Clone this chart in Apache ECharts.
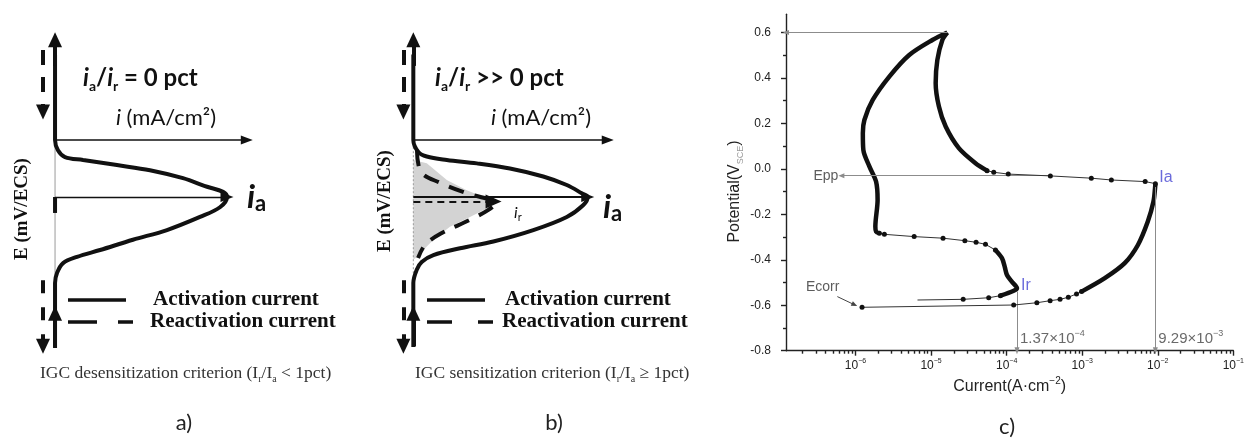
<!DOCTYPE html>
<html>
<head>
<meta charset="utf-8">
<script src="https://cdn.jsdelivr.net/npm/echarts@6/dist/echarts.min.js"></script>
<style>
  html, body { margin: 0; padding: 0; background: #ffffff; }
  #chart { width: 1247px; height: 442px; }
</style>
</head>
<body>
<div id="chart"></div>
<script>
// ---------------------------------------------------------------
// a) / b) schematic DL-EPR curves: [i (relative to i_a), E (arb. units)]
// ---------------------------------------------------------------
const activationA = [
  [0, -2.65], [0, -1.51], [0.012, -1.33], [0.047, -1.16], [0.128, -1.05],
  [0.262, -0.93], [0.453, -0.75], [0.651, -0.58], [0.843, -0.35], [0.959, -0.18],
  [1.0, 0.0], [0.977, 0.09], [0.884, 0.18], [0.744, 0.33], [0.552, 0.47],
  [0.36, 0.56], [0.163, 0.65], [0.058, 0.70], [0.017, 0.82], [0, 1.0], [0, 2.5]
];
// reactivation current is nil in a): it stays on the potential axis
const reactivationA = [[0, 0.0], [0, -0.28]];

const activationB = [
  [0, -2.63], [0, -1.51], [0.019, -1.28], [0.048, -1.14], [0.115, -1.02],
  [0.268, -0.90], [0.459, -0.78], [0.688, -0.58], [0.88, -0.35], [0.975, -0.14],
  [1.0, 0.0], [0.966, 0.065], [0.88, 0.21], [0.745, 0.36], [0.554, 0.50],
  [0.364, 0.59], [0.192, 0.65], [0.077, 0.71], [0.029, 0.79], [0, 1.0], [0, 2.5]
];
const reactivationB = [
  [0.021, 0.82], [0.044, 0.44], [0.153, 0.25], [0.302, 0.07], [0.44, -0.05],
  [0.468, -0.11], [0.428, -0.23], [0.325, -0.40], [0.153, -0.65], [0.067, -0.84],
  [0.027, -1.07]
];
// charge area under the reactivation loop
const reactivationAreaB = [
  [0, 0.65], [0.077, 0.59], [0.192, 0.30], [0.306, 0.12], [0.421, -0.02],
  [0.459, -0.08], [0.421, -0.20], [0.325, -0.35], [0.21, -0.52], [0.115, -0.75],
  [0.038, -0.99], [0.01, -1.08], [0, -1.09]
];
const peakIa = 1.0;      // i_a (relative)
const peakIrB = 0.46;    // i_r in b) (relative)
const peakErB = -0.08;   // potential of the i_r peak in b)

// ---------------------------------------------------------------
// c) measured DL-EPR loop: [current (A/cm^2), potential (V_SCE)]
// ---------------------------------------------------------------
const cathodicRise = [
  [1.22e-6, -0.609], [1.24e-4, -0.599], [2.51e-4, -0.589], [3.76e-4, -0.580],
  [5.09e-4, -0.574], [6.55e-4, -0.565], [8.41e-4, -0.550], [9.79e-4, -0.540]
];
const activationPeak = [
  [9.79e-4, -0.540], [1.99e-3, -0.481], [3.65e-3, -0.415], [5.46e-3, -0.335],
  [7.38e-3, -0.232], [8.77e-3, -0.144], [9.20e-3, -0.085], [9.29e-3, -0.065]
];
const passivationDrop = [
  [9.29e-3, -0.065], [6.81e-3, -0.056], [2.43e-3, -0.049], [1.32e-3, -0.041],
  [3.79e-4, -0.031], [1.05e-4, -0.023], [6.75e-5, -0.015], [5.51e-5, -0.008]
];
const passiveRise = [
  [5.51e-5, -0.008], [3.87e-5, 0.025], [2.33e-5, 0.091], [1.56e-5, 0.186],
  [1.27e-5, 0.274], [1.15e-5, 0.377], [1.21e-5, 0.479], [1.41e-5, 0.567],
  [1.64e-5, 0.600]
];
const reverseScan = [
  [1.64e-5, 0.600], [1.04e-5, 0.567], [5.14e-6, 0.501], [2.80e-6, 0.406],
  [1.69e-6, 0.303], [1.31e-6, 0.215], [1.25e-6, 0.157], [1.27e-6, 0.083],
  [1.53e-6, 0.010], [1.87e-6, -0.056], [1.96e-6, -0.137], [1.83e-6, -0.254],
  [1.87e-6, -0.276], [2.07e-6, -0.283]
];
const reactivationOnset = [
  [2.07e-6, -0.283], [2.41e-6, -0.288], [5.97e-6, -0.298], [1.44e-5, -0.305],
  [2.80e-5, -0.316], [3.94e-5, -0.323], [5.25e-5, -0.332], [7.10e-5, -0.357]
];
const reactivationPeak = [
  [7.10e-5, -0.357], [8.67e-5, -0.393], [9.42e-5, -0.430], [1.01e-4, -0.467],
  [1.17e-4, -0.496], [1.37e-4, -0.525], [1.24e-4, -0.536], [8.26e-5, -0.558]
];
const reactivationTail = [
  [8.26e-5, -0.558], [5.79e-5, -0.567], [2.66e-5, -0.574], [6.61e-6, -0.577]
];

const Ia = 9.29e-3, IaE = -0.065;
const Ir = 1.37e-4, IrE = -0.525;
const Epp = -0.03;
const Ecorr = [1.22e-6, -0.609];
const Evertex = [1.64e-5, 0.600];

// axis ticks of c)
const currentDecades = [-6, -5, -4, -3, -2, -1];
const potentialTicks = [-0.8, -0.6, -0.4, -0.2, 0.0, 0.2, 0.4, 0.6];
const potentialMinorTicks = [-0.7, -0.5, -0.3, -0.1, 0.1, 0.3, 0.5];

// ---------------------------------------------------------------
const lg = Math.log10;
const toLog = arr => arr.map(([i, e]) => [lg(i), e]);
const xMinC = -6.92, xMaxC = -1;
const currentMinorTicks = [];
for (let n = -7; n <= -2; n++) {
  for (let k = 2; k <= 9; k++) {
    const v = n + lg(k);
    if (v > xMinC && v < xMaxC) currentMinorTicks.push(v);
  }
}

const INK = '#111';
const BLUE = '#4646d2';
const SERIF = 'Liberation Serif';
const SANS = 'Liberation Sans';
const CAL = 'Lato';

function arrow(from, to, style, size) {
  return [
    { coord: from, symbol: 'none', lineStyle: style },
    { coord: to, symbol: 'triangle', symbolSize: size }
  ];
}
const plainMark = (data) => ({
  silent: true, animation: false, label: { show: false },
  emphasis: { disabled: true }, symbol: ['none', 'triangle'], data
});

const solidThin = { color: INK, width: 1.5, type: 'solid' };

// schematic panels share one layout builder
function schematicSeries(idx, act, react, dashX, iaWidth) {
  const s = [];
  s.push({
    type: 'line', name: 'E axis', xAxisIndex: idx, yAxisIndex: idx,
    data: [[0, -2.6], [0, 2.5]], symbol: 'none', silent: true, z: 1,
    lineStyle: { color: '#9a9a9a', width: 1, type: idx === 1 ? [2, 2] : 'solid' }
  });
  s.push({
    type: 'line', name: 'Activation current', xAxisIndex: idx, yAxisIndex: idx,
    data: act, symbol: 'none', smooth: 0.35, silent: true, z: 3,
    lineStyle: { color: INK, width: 4 },
    markLine: plainMark([
      // current axis
      arrow([0, 1.0], [1.115, 1.0], solidThin, [9, 12]),
      // i_a
      arrow([0, 0], [peakIa, 0], { color: INK, width: iaWidth, type: 'solid' }, [10, 13]),
      // scan direction of the activation sweep
      arrow([0, 2.3], [0, 2.76], { color: INK, width: 4, type: 'solid' }, [14, 15]),
      arrow([0, -2.62], [0, -2.04], { color: INK, width: 4, type: 'solid' }, [14, 15]),
      // scan direction of the reactivation sweep
      arrow([dashX, 2.58], [dashX, 1.49], { color: INK, width: 4, type: [15, 12] }, [14, 15]),
      arrow([dashX, -1.46], [dashX, -2.62], { color: INK, width: 4, type: [13, 14] }, [14, 15])
    ])
  });
  s.push({
    type: 'line', name: 'Reactivation current', xAxisIndex: idx, yAxisIndex: idx,
    data: react, symbol: 'none', smooth: 0.35, silent: true, z: 3,
    lineStyle: { color: INK, width: 4, type: idx === 1 ? [16, 11] : 'solid' }
  });
  return s;
}

const series = [
  ...schematicSeries(0, activationA, reactivationA, -0.07, 1.3),
  {
    type: 'custom', name: 'Reactivation charge', xAxisIndex: 1, yAxisIndex: 1,
    data: [[0, 0]], silent: true, z: 0,
    renderItem: (params, api) => ({
      type: 'polygon',
      shape: { points: reactivationAreaB.map(p => api.coord(p)) },
      style: { fill: '#d3d3d3' }
    })
  },
  ...schematicSeries(1, activationB, reactivationB, -0.057, 2.2),
  {
    type: 'line', name: 'i_r', xAxisIndex: 1, yAxisIndex: 1, data: [], silent: true,
    markLine: plainMark([
      arrow([0, peakErB], [peakIrB, peakErB], { color: INK, width: 1.8, type: [7, 5] }, [14, 16])
    ])
  }
];

// c) measured loop: dense stretches drawn thick, sparse stretches as dotted points
const denseC = [activationPeak, passiveRise, reverseScan, reactivationPeak];
const sparseC = [cathodicRise, passivationDrop, reactivationOnset, reactivationTail];
denseC.forEach(seg => series.push({
  type: 'line', xAxisIndex: 2, yAxisIndex: 2, data: toLog(seg), symbol: 'none',
  smooth: 0.3, silent: true, z: 4, lineStyle: { color: INK, width: 4.5 }
}));
sparseC.forEach(seg => {
  const pts = toLog(seg).map((v, k) => (seg === reactivationTail && k === seg.length - 1)
    ? { value: v, symbolSize: 0 } : v);
  series.push({
    type: 'line', xAxisIndex: 2, yAxisIndex: 2, data: pts, symbol: 'circle',
    symbolSize: 5, silent: true, z: 5,
    itemStyle: { color: INK }, lineStyle: { color: '#333', width: 1 }
  });
});

const guide = { color: '#8c8c8c', width: 1, type: 'solid' };
const valueRich = {
  n: { fontSize: 15, color: '#444', lineHeight: 19, fontFamily: SANS },
  s: { fontSize: 9, color: '#444', verticalAlign: 'top', lineHeight: 10, fontFamily: SANS }
};
series.push({
  type: 'scatter', xAxisIndex: 2, yAxisIndex: 2, symbolSize: 0, silent: true, z: 6,
  label: { show: true, fontFamily: SANS },
  data: [
    { value: [lg(Ia), IaE], label: { formatter: 'Ia', position: 'right', offset: [-1, -6], color: BLUE, fontSize: 16 } },
    { value: [lg(Ir), IrE], label: { formatter: 'Ir', position: 'right', offset: [-1, -3], color: BLUE, fontSize: 16 } },
    { value: [lg(Ir), -0.748], label: { formatter: '{n|1.37×10}{s|−4}', position: 'right', distance: 3, rich: valueRich } },
    { value: [lg(Ia), -0.748], label: { formatter: '{n|9.29×10}{s|−3}', position: 'right', distance: 3, rich: valueRich } },
    { value: [lg(6.5e-7), Epp], label: { formatter: 'Epp', position: 'left', distance: 3, color: '#333', fontSize: 14 } },
    { value: [lg(5.75e-7), -0.562], label: { formatter: 'Ecorr', position: 'left', offset: [2, -9], distance: 0, color: '#333', fontSize: 14 } }
  ],
  markLine: plainMark([
    arrow([lg(Evertex[0]), Evertex[1]], [xMinC, Evertex[1]], guide, [5, 6]),
    arrow([lg(3.79e-4), Epp], [lg(6.5e-7), Epp], guide, [5, 6]),
    arrow([lg(5.75e-7), -0.562], [lg(9.7e-7), -0.598], { color: '#444', width: 1, type: 'solid' }, [5, 6]),
    arrow([lg(Ir), -0.54], [lg(Ir), -0.8], guide, [5, 7]),
    arrow([lg(Ia), -0.08], [lg(Ia), -0.8], guide, [5, 7])
  ])
});

const hiddenX = (g) => ({ type: 'value', gridIndex: g, min: -0.12, max: 1.2, show: false });
const hiddenY = (g) => ({ type: 'value', gridIndex: g, min: -3, max: 3, show: false });
const axisInk = { color: '#222', width: 1.4 };

const option = {
  backgroundColor: '#ffffff',
  animation: false,
  grid: [
    { left: 34.4, top: 26, width: 227, height: 342 },
    { left: 392.4, top: 26, width: 230.2, height: 342 },
    { left: 786, top: 14.3, width: 450, height: 336.4 }
  ],
  xAxis: [
    hiddenX(0), hiddenX(1),
    {
      type: 'value', gridIndex: 2, min: xMinC, max: xMaxC, position: 'bottom',
      axisLine: { onZero: false, lineStyle: axisInk },
      axisTick: { customValues: currentDecades, length: 5, lineStyle: axisInk },
      splitLine: { show: false },
      axisLabel: {
        customValues: currentDecades, margin: 7,
        formatter: v => '{b|10}{s|' + String(Math.round(v)).replace('-', '−') + '}',
        rich: {
          b: { fontSize: 12, color: '#222', fontFamily: SANS, lineHeight: 16 },
          s: { fontSize: 7, color: '#222', fontFamily: SANS, verticalAlign: 'top', lineHeight: 8 }
        }
      },
      name: '{n|Current(A·cm}{s|−2}{n|)}', nameLocation: 'middle', nameGap: 23,
      nameTextStyle: {
        rich: {
          n: { fontSize: 16, color: '#222', fontFamily: SANS, lineHeight: 20 },
          s: { fontSize: 10, color: '#222', fontFamily: SANS, verticalAlign: 'top', lineHeight: 11 }
        }
      }
    },
    {
      type: 'value', gridIndex: 2, min: xMinC, max: xMaxC, position: 'bottom',
      axisLine: { show: false, onZero: false },
      axisTick: { customValues: currentMinorTicks, length: 3, lineStyle: axisInk },
      axisLabel: { show: false }, splitLine: { show: false }
    }
  ],
  yAxis: [
    hiddenY(0), hiddenY(1),
    {
      type: 'value', gridIndex: 2, min: -0.8, max: 0.68, position: 'left',
      axisLine: { onZero: false, lineStyle: axisInk },
      axisTick: { customValues: potentialTicks, length: 5, lineStyle: axisInk },
      splitLine: { show: false },
      axisLabel: {
        customValues: potentialTicks, margin: 15, color: '#222', fontSize: 12, fontFamily: SANS,
        formatter: v => (Math.round(v * 10) / 10).toFixed(1).replace('-0.0', '0.0')
      },
      name: '{n|Potential(V}{s|SCE}{n|)}', nameLocation: 'middle', nameGap: 41,
      nameTextStyle: {
        padding: [0, 0, 0, -18],
        rich: {
          n: { fontSize: 16, color: '#222', fontFamily: SANS, lineHeight: 20 },
          s: { fontSize: 9, color: '#9a9a9a', fontFamily: SANS, verticalAlign: 'bottom', lineHeight: 11 }
        }
      }
    },
    {
      type: 'value', gridIndex: 2, min: -0.8, max: 0.68, position: 'left',
      axisLine: { show: false, onZero: false },
      axisTick: { customValues: potentialMinorTicks, length: 3, lineStyle: axisInk },
      axisLabel: { show: false }, splitLine: { show: false }
    }
  ],
  series,
  graphic: []
};

// ---- texts and legend keys of the schematic panels ----
const calRich = (size) => ({
  it: { fontFamily: CAL, fontSize: size, fontWeight: 'bold', fontStyle: 'italic', fill: INK, lineHeight: size + 6 },
  n: { fontFamily: CAL, fontSize: size, fontWeight: 'bold', fill: INK, lineHeight: size + 6 },
  sub: { fontFamily: CAL, fontSize: Math.round(size * 0.6), fontWeight: 'bold', fill: INK, verticalAlign: 'bottom', lineHeight: Math.round(size * 0.6) + 2 }
});
const serifRich = {
  n: { fontFamily: SERIF, fontSize: 17.5, fill: '#333', lineHeight: 22 },
  sub: { fontFamily: SERIF, fontSize: 10, fill: '#333', verticalAlign: 'bottom', lineHeight: 11 }
};
function txt(x, y, text, extra) {
  return Object.assign({ type: 'text', x, y, silent: true, z: 20,
    style: Object.assign({ text, align: 'left', verticalAlign: 'middle', fill: INK }, extra || {}) });
}
function keyLine(x1, x2, y, dash) {
  return { type: 'line', silent: true, z: 20, shape: { x1, y1: y, x2, y2: y },
    style: { stroke: INK, lineWidth: 3.5, lineDash: dash || null } };
}
const panels = [
  { ratio: '{it|i}{sub|a}{n|/}{it|i}{sub|r}{n| = 0 pct}', ratioX: 83,
    iLabelX: 166, iaX: 247, iaY: 197, keyX: 68, keyDash: [29, 21], keyDashEnd: 133, txtX: 153,
    caption: '{n|IGC desensitization criterion (I}{sub|r}{n|/I}{sub|a}{n| < 1pct)}', capX: 40,
    eX: 22, eY: 209, tag: 'a)', tagX: 184 },
  { ratio: '{it|i}{sub|a}{n|/}{it|i}{sub|r}{n| >> 0 pct}', ratioX: 435,
    iLabelX: 541, iaX: 603, iaY: 207, keyX: 427, keyDash: [25, 26], keyDashEnd: 493, txtX: 505,
    caption: '{n|IGC sensitization criterion (I}{sub|r}{n|/I}{sub|a}{n| ≥ 1pct)}', capX: 415,
    eX: 385, eY: 201, tag: 'b)', tagX: 554 }
];
panels.forEach(p => {
  const g = option.graphic;
  g.push(txt(p.ratioX, 78, p.ratio, { rich: calRich(24) }));
  g.push(txt(p.iLabelX, 118, '{it|i}{n| (mA/cm²)}', {
    align: 'center',
    rich: {
      it: { fontFamily: CAL, fontSize: 22, fontStyle: 'italic', fill: INK },
      n: { fontFamily: CAL, fontSize: 22, fill: INK }
    }
  }));
  g.push(txt(p.iaX, p.iaY, '{it|i}{sub|a}', {
    rich: {
      it: { fontFamily: CAL, fontSize: 33, fontWeight: 'bold', fontStyle: 'italic', fill: INK, lineHeight: 36 },
      sub: { fontFamily: CAL, fontSize: 22, fontWeight: 'bold', fill: INK, verticalAlign: 'bottom', lineHeight: 22 }
    }
  }));
  g.push(keyLine(p.keyX, p.keyX + 58, 300));
  g.push(keyLine(p.keyX, p.keyDashEnd, 322, p.keyDash));
  g.push(txt(p.txtX, 300, 'Activation current', { font: 'bold 21px "' + SERIF + '"' }));
  g.push(txt(p.txtX - 3, 322, 'Reactivation current', { font: 'bold 21px "' + SERIF + '"' }));
  g.push(txt(p.capX, 373, p.caption, { rich: serifRich }));
  g.push(Object.assign(txt(p.eX, p.eY, 'E (mV/ECS)', { align: 'center', font: 'bold 19px "' + SERIF + '"' }), { rotation: Math.PI / 2 }));
  g.push(txt(p.tagX, 423, p.tag, { align: 'center', font: '22px "' + CAL + '"', fill: '#222' }));
});
option.graphic.push(txt(514, 213, '{it|i}{sub|r}', {
  rich: {
    it: { fontFamily: CAL, fontSize: 16, fontStyle: 'italic', fill: INK, lineHeight: 19 },
    sub: { fontFamily: CAL, fontSize: 11, fill: INK, verticalAlign: 'bottom', lineHeight: 11 }
  }
}));
option.graphic.push(txt(1007, 427, 'c)', { align: 'center', font: '22px "' + CAL + '"', fill: '#222' }));

const chart = echarts.init(document.getElementById('chart'));
chart.setOption(option);
</script>
</body>
</html>
